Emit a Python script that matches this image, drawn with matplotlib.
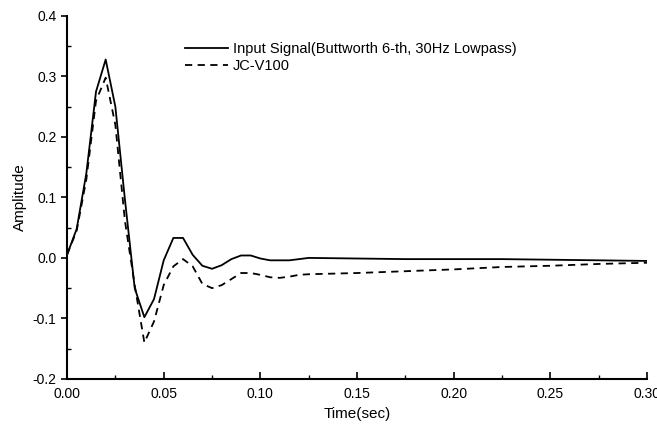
import matplotlib
matplotlib.use("Agg")
import matplotlib.pyplot as plt
from matplotlib.ticker import MultipleLocator

plt.rcParams['font.family'] = ['Liberation Sans', 'DejaVu Sans']

time = [0.000, 0.005, 0.010, 0.015, 0.020, 0.025, 0.030, 0.035, 0.040, 0.045,
        0.050, 0.055, 0.060, 0.065, 0.070, 0.075, 0.080, 0.085, 0.090, 0.095,
        0.100, 0.105, 0.110, 0.115, 0.120, 0.125, 0.150, 0.175, 0.200, 0.225,
        0.250, 0.275, 0.300]
input_signal = [0.005, 0.048, 0.140, 0.275, 0.328, 0.250, 0.095, -0.050, -0.098, -0.068,
                -0.004, 0.033, 0.033, 0.005, -0.013, -0.018, -0.012, -0.002, 0.004, 0.004,
                -0.001, -0.004, -0.004, -0.004, -0.002, 0.000, -0.001, -0.002, -0.002, -0.002,
                -0.003, -0.004, -0.005]
jc_v100 = [0.005, 0.045, 0.130, 0.260, 0.298, 0.220, 0.060, -0.045, -0.140, -0.105,
           -0.045, -0.014, -0.002, -0.014, -0.043, -0.050, -0.045, -0.035, -0.025, -0.025,
           -0.028, -0.032, -0.033, -0.031, -0.028, -0.027, -0.025, -0.022, -0.019, -0.015,
           -0.013, -0.010, -0.008]

fig = plt.figure(figsize=(6.57, 4.32), dpi=100)
ax = fig.add_axes([0.102, 0.123, 0.883, 0.840])

ax.plot(time, input_signal, color='black', lw=1.3, ls='-',
        label='Input Signal(Buttworth 6-th, 30Hz Lowpass)')
ax.plot(time, jc_v100, color='black', lw=1.3, ls=(0, (4, 3)), label='JC-V100')

ax.set_xlim(0, 0.30)
ax.set_ylim(-0.2, 0.4)
ax.xaxis.set_major_locator(MultipleLocator(0.05))
ax.xaxis.set_minor_locator(MultipleLocator(0.025))
ax.yaxis.set_major_locator(MultipleLocator(0.1))
ax.yaxis.set_minor_locator(MultipleLocator(0.05))
ax.set_xticks([0, 0.05, 0.10, 0.15, 0.20, 0.25, 0.30])
ax.set_xticklabels(['0.00', '0.05', '0.10', '0.15', '0.20', '0.25', '0.30'])
ax.set_yticks([-0.2, -0.1, 0.0, 0.1, 0.2, 0.3, 0.4])
ax.set_yticklabels(['-0.2', '-0.1', '0.0', '0.1', '0.2', '0.3', '0.4'])

for s in ['top', 'right']:
    ax.spines[s].set_visible(False)
for s in ['left', 'bottom']:
    ax.spines[s].set_linewidth(1.5)

ax.tick_params(axis='x', which='major', direction='in', length=5, width=1.2, labelsize=10, pad=6)
ax.tick_params(axis='x', which='minor', direction='in', length=3, width=1.0)
ax.tick_params(axis='y', which='major', direction='out', length=4, width=1.2, labelsize=10)
ax.tick_params(axis='y', which='minor', direction='in', length=3, width=1.0)

ax.set_xlabel('Time(sec)', fontsize=11, labelpad=4)
ax.set_ylabel('Amplitude', fontsize=11, labelpad=4)

ax.legend(loc='upper left', bbox_to_anchor=(0.18, 0.965), frameon=False, fontsize=10.5,
          handlelength=3.0, handletextpad=0.3, labelspacing=0.2)

fig.savefig('out.png', dpi=100)
